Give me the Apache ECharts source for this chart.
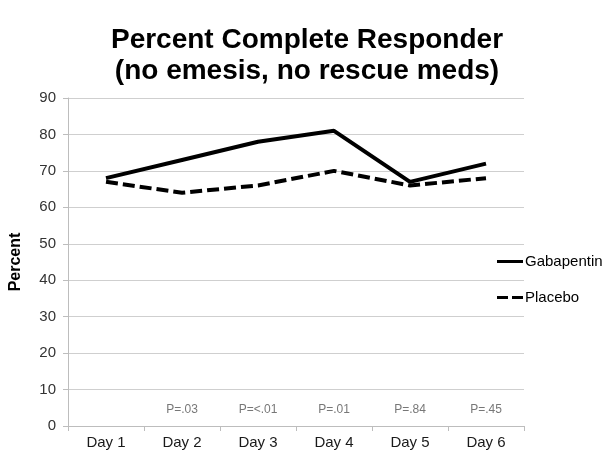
<!DOCTYPE html>
<html>
<head>
<meta charset="utf-8">
<script src="https://cdn.jsdelivr.net/npm/echarts@6/dist/echarts.min.js"></script>
<style>
  html, body { margin: 0; padding: 0; background: #fff; }
  #chart { width: 614px; height: 463px; }
</style>
</head>
<body>
<div id="chart"></div>
<script>
// data
const days = ['Day 1', 'Day 2', 'Day 3', 'Day 4', 'Day 5', 'Day 6']
const gabapentin = [68, 73, 78, 81, 67, 72]
const placebo = [67, 64, 66, 70, 66, 68]
const pLabels = ['', 'P=.03', 'P=<.01', 'P=.01', 'P=.84', 'P=.45']
const pLevel = [null, 4.4, 4.4, 4.4, 4.4, 4.4]
const yTicks = [0, 10, 20, 30, 40, 50, 60, 70, 80, 90]

const chart = echarts.init(document.getElementById('chart'))
const font = 'Arial, "Liberation Sans", sans-serif'

const option = {
  animation: false,
  textStyle: { fontFamily: font },
  title: {
    text: 'Percent Complete Responder\n(no emesis, no rescue meds)',
    left: 'center',
    top: 20,
    textStyle: { fontSize: 28, fontWeight: 'bold', color: '#000', lineHeight: 31, fontFamily: font }
  },
  legend: {
    data: [
      { name: 'Gabapentin', icon: 'path://M0,6 L26,6 L26,9 L0,9 Z' },
      { name: 'Placebo', icon: 'path://M0,6 L11,6 L11,9 L0,9 Z M15,6 L26,6 L26,9 L15,9 Z' }
    ],
    orient: 'vertical',
    left: 492,
    top: 249,
    itemGap: 21,
    itemWidth: 26,
    itemHeight: 14,
    textStyle: { fontSize: 15, color: '#000', padding: [0, 0, 0, -3] }
  },
  grid: { left: 65, right: 90, top: 98, bottom: 37 },
  xAxis: {
    type: 'category',
    data: days,
    boundaryGap: true,
    axisLine: { lineStyle: { color: '#bdbdbd', width: 1 } },
    axisTick: { show: true, length: 5, lineStyle: { color: '#bdbdbd' } },
    axisLabel: { fontSize: 15, color: '#1a1a1a', margin: 9 }
  },
  yAxis: {
    type: 'value',
    min: yTicks[0],
    max: yTicks[yTicks.length - 1],
    interval: 10,
    name: 'Percent',
    nameLocation: 'middle',
    nameGap: 44,
    nameTextStyle: { fontSize: 16, fontWeight: 'bold', color: '#000' },
    axisLine: { show: true, lineStyle: { color: '#bdbdbd' } },
    axisTick: { show: true, length: 5, lineStyle: { color: '#bdbdbd' } },
    axisLabel: { fontSize: 15, color: '#333', margin: 12 },
    splitLine: { lineStyle: { color: '#cfcfcf', width: 1 } }
  },
  series: [
    {
      name: 'Gabapentin',
      type: 'line',
      data: gabapentin,
      symbol: 'none',
      itemStyle: { color: '#000' },
      lineStyle: { color: '#000', width: 4 }
    },
    {
      name: 'Placebo',
      type: 'line',
      data: placebo,
      symbol: 'none',
      itemStyle: { color: '#000' },
      lineStyle: { color: '#000', width: 4, type: [12, 5] }
    },
    {
      name: 'p',
      type: 'scatter',
      data: pLevel,
      symbolSize: 0,
      silent: true,
      label: {
        show: true,
        position: 'inside',
        fontSize: 12,
        color: '#555',
        formatter: p => pLabels[p.dataIndex]
      }
    }
  ]
}
chart.setOption(option)
</script>
</body>
</html>
